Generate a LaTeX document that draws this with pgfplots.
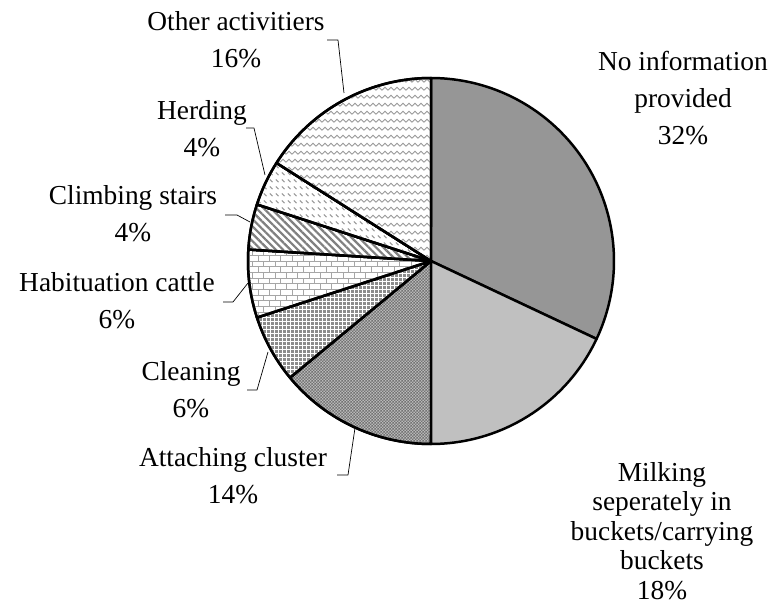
\documentclass[border=0pt]{standalone}
\usepackage{pgfplots}
\pgfplotsset{compat=1.18}
\usepackage{pgfplotstable}
\usepackage{fontspec}
\setmainfont{Liberation Serif}
\usetikzlibrary{patterns,patterns.meta}

\definecolor{noinfo}{HTML}{969696}
\definecolor{milk}{HTML}{C0C0C0}
\definecolor{patgray}{HTML}{8C8C8C}

\pgfdeclarepattern{
  name=zigzag, type=uncolored,
  bottom left={\pgfpoint{0pt}{0pt}}, top right={\pgfpoint{6pt}{7.5pt}},
  tile size={\pgfpoint{6pt}{7.5pt}},
  code={\pgfsetlinewidth{0.9pt}
    \pgfpathmoveto{\pgfpoint{-1pt}{3pt}}
    \pgfpathlineto{\pgfpoint{0pt}{2pt}}
    \pgfpathlineto{\pgfpoint{3pt}{5pt}}
    \pgfpathlineto{\pgfpoint{6pt}{2pt}}
    \pgfpathlineto{\pgfpoint{7pt}{3pt}}
    \pgfusepath{stroke}}
}
\pgfdeclarepattern{
  name=dashdiag, type=uncolored,
  bottom left={\pgfpoint{0pt}{0pt}}, top right={\pgfpoint{6pt}{6.5pt}},
  tile size={\pgfpoint{6pt}{6.5pt}},
  code={\pgfsetlinewidth{1.1pt}
    \pgfpathmoveto{\pgfpoint{0.8pt}{4.8pt}}
    \pgfpathlineto{\pgfpoint{3.6pt}{2pt}}
    \pgfusepath{stroke}}
}
\pgfdeclarepattern{
  name=checkfine, type=uncolored,
  bottom left={\pgfpoint{0pt}{0pt}}, top right={\pgfpoint{3pt}{3pt}},
  tile size={\pgfpoint{3pt}{3pt}},
  code={\pgfpathrectangle{\pgfpoint{0pt}{0pt}}{\pgfpoint{1.5pt}{1.5pt}}
    \pgfpathrectangle{\pgfpoint{1.5pt}{1.5pt}}{\pgfpoint{1.5pt}{1.5pt}}
    \pgfusepath{fill}}
}
\pgfdeclarepattern{
  name=checkcoarse, type=uncolored,
  bottom left={\pgfpoint{0pt}{0pt}}, top right={\pgfpoint{4pt}{4pt}},
  tile size={\pgfpoint{4pt}{4pt}},
  code={\pgfpathrectangle{\pgfpoint{0pt}{0pt}}{\pgfpoint{2.8pt}{2.8pt}}
    \pgfusepath{fill}}
}

% slice shares (percent) -> angles, clockwise from 12 o'clock
\pgfplotstableread{
name        pct  start   end
noinfo      32    90.0   -25.2
milking     18   -25.2   -90.0
attaching   14   -90.0  -140.4
cleaning     6  -140.4  -162.0
habituation  6  -162.0  -183.6
climbing     4  -183.6  -198.0
herding      4  -198.0  -212.4
other       16  -212.4  -270.0
}\piedata

\begin{document}
\begin{tikzpicture}
\begin{axis}[
  x=1bp, y=1bp,
  xmin=0, xmax=776, ymin=0, ymax=604,
  hide axis, clip=false,
  every axis plot/.append style={line join=round},
]
\newcommand{\slice}[3]{%
  \addplot[draw=black, line width=2.5pt, #3, domain=#2:#1, samples=90, variable=\t]
    ({431+183*cos(t)}, {343+183*sin(t)}) -- (axis cs:431,343) -- cycle;}
\slice{90.0}{-25.2}{fill=noinfo}
\slice{-25.2}{-90.0}{fill=milk}
\slice{-90.0}{-140.4}{preaction={fill=gray!55}, pattern=checkfine, pattern color=black!55}
\slice{-140.4}{-162.0}{preaction={fill=white}, pattern=checkcoarse, pattern color=patgray}
\slice{-162.0}{-183.6}{preaction={fill=white}, pattern=bricks, pattern color=black!35}
\slice{-183.6}{-198.0}{preaction={fill=white}, pattern={Lines[angle=-45, distance=5.2pt, line width=2.2pt]}, pattern color=black!50}
\slice{-198.0}{-212.4}{preaction={fill=white}, pattern=dashdiag, pattern color=black!40}
\slice{-212.4}{-270.0}{preaction={fill=white}, pattern=zigzag, pattern color=black!40}

% leader lines
\addplot[black, line width=0.7pt, no marks] coordinates {(344,511) (338,564) (327,564)};
\addplot[black, line width=0.7pt, no marks] coordinates {(265,429) (254,476) (246,476)};
\addplot[black, line width=0.7pt, no marks] coordinates {(250,382) (237,389) (225,389)};
\addplot[black, line width=0.7pt, no marks] coordinates {(248,321) (233,302) (223,302)};
\addplot[black, line width=0.7pt, no marks] coordinates {(268,252) (257,214) (247,214)};
\addplot[black, line width=0.7pt, no marks] coordinates {(355,176) (348,129) (337,129)};

\tikzset{lab/.style={align=center, font=\fontsize{27.5}{37}\selectfont, inner sep=0pt}}
\node[lab] at (axis cs:236,564) {Other activitiers\\16\%};
\node[lab] at (axis cs:202,475) {Herding\\4\%};
\node[lab] at (axis cs:133,390) {Climbing stairs\\4\%};
\node[lab] at (axis cs:117,303) {Habituation cattle\\6\%};
\node[lab] at (axis cs:191,214) {Cleaning\\6\%};
\node[lab] at (axis cs:233,128) {Attaching cluster\\14\%};
\node[lab] at (axis cs:683,506) {No information\\provided\\32\%};
\node[lab, font=\fontsize{27.5}{29.5}\selectfont] at (axis cs:662,73) {Milking\\seperately in\\buckets/carrying\\buckets\\18\%};
\end{axis}
\pgfresetboundingbox
\path (0,0) rectangle (776bp,604bp);
\end{tikzpicture}
\end{document}
